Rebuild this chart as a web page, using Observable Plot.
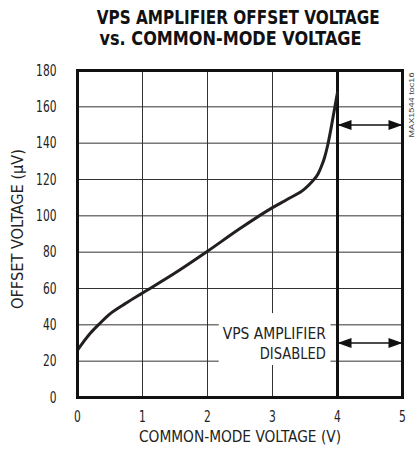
<!DOCTYPE html>
<html>
<head>
<meta charset="utf-8">
<script src="https://cdn.jsdelivr.net/npm/d3@7"></script>
<script src="https://cdn.jsdelivr.net/npm/@observablehq/plot@0.6"></script>
<style>
  html, body { margin: 0; padding: 0; background: #fff; }
  #wrap { position: relative; width: 416px; height: 455px; overflow: hidden; }
  #title { position: relative; height: 52px; width: 416px; font-family: "Liberation Sans Narrow", "DejaVu Sans Condensed", "DejaVu Sans", sans-serif; font-stretch: condensed; font-weight: bold; font-size: 18.5px; color: #111; }
  #title div { position: absolute; width: 832px; text-align: center; line-height: 20px; white-space: nowrap; }
  #title span { display: inline-block; transform-origin: center; }
  #chart { display: block; }
</style>
</head>
<body>
<div id="wrap">
  <div id="title">
    <div style="top:8px; left:-178px;"><span id="t1">VPS AMPLIFIER OFFSET VOLTAGE</span></div>
    <div style="top:29px; left:-185px;"><span id="t2">vs. COMMON-MODE VOLTAGE</span></div>
  </div>
  <div id="chart"></div>
</div>
<script>
// Curve: offset voltage (µV) vs common-mode voltage (V)
const cmVoltage = [0, 0.1, 0.2, 0.35, 0.5, 0.75, 1.0, 1.5, 2.0, 2.5, 3.0, 3.25, 3.5, 3.6, 3.7, 3.75, 3.8, 3.85, 3.9, 3.95, 4.0];
const offsetUV  = [26, 31, 35.5, 41, 46, 52, 57.5, 68.5, 80.5, 93, 104.5, 109.5, 115, 118.5, 123, 127, 132, 139, 148, 158, 168];

const xTicks = [0, 1, 2, 3, 4, 5];
const yTicks = [0, 20, 40, 60, 80, 100, 120, 140, 160, 180];

const xLabel = "COMMON-MODE VOLTAGE (V)";
const yLabel = "OFFSET VOLTAGE (µV)";
const sideNote = "MAX1544 toc16";

// "disabled" region boundary and arrows (from 4 V to 5 V)
const disabledFrom = [4];
const arrowLevels = [150, 30];
const arrowSpan = [4, 5];

// annotation text and its white backing box (data units)
const noteLines = ["VPS AMPLIFIER", "DISABLED"];
const noteLineY = [35.2, 24.2];
const noteX = 3.82;
const noteBox = [{x1: 2.18, x2: 3.9, y1: 17.6, y2: 46.2}];

const curve = cmVoltage.map((v, i) => ({x: v, y: offsetUV[i]}));
const arrows = arrowLevels.map(y => ({x1: arrowSpan[0], x2: arrowSpan[1], y}));
const heads = arrowLevels.flatMap(y => [{x: arrowSpan[0], y, r: 180}, {x: arrowSpan[1], y, r: 0}]);
const notes = noteLines.map((t, i) => ({x: noteX, y: noteLineY[i], t}));

// filled arrowhead symbol: tip at origin pointing right
const headSymbol = {
  draw(ctx) {
    ctx.moveTo(0, 0);
    ctx.lineTo(-14, -5);
    ctx.lineTo(-14, 5);
    ctx.closePath();
  }
};

const font = '"Liberation Sans Narrow", "DejaVu Sans Condensed", "DejaVu Sans", sans-serif';

const chart = Plot.plot({
  width: 416,
  height: 403,
  marginTop: 18,
  marginBottom: 58,
  marginLeft: 77,
  marginRight: 14,
  style: {fontFamily: font, fontSize: "16px", color: "#222", background: "#fff", fontStretch: "condensed"},
  x: {domain: [0, 5], ticks: xTicks, tickSize: 0, tickPadding: 13, label: null},
  y: {domain: [0, 180], ticks: yTicks, tickSize: 0, tickPadding: 21, label: null},
  marks: [
    Plot.ruleX(xTicks, {stroke: "#333", strokeWidth: 1}),
    Plot.ruleY(yTicks, {stroke: "#333", strokeWidth: 1}),
    Plot.rect(noteBox, {x1: "x1", x2: "x2", y1: "y1", y2: "y2", fill: "#fff"}),
    Plot.text(notes, {x: "x", y: "y", text: "t", textAnchor: "end", fontSize: 16, fill: "#222", className: "note"}),
    Plot.ruleX(disabledFrom, {stroke: "#111", strokeWidth: 3}),
    Plot.link(arrows, {x1: "x1", x2: "x2", y1: "y", y2: "y", stroke: "#111", strokeWidth: 1.5}),
    Plot.dot(heads, {x: "x", y: "y", rotate: "r", symbol: headSymbol, fill: "#111", stroke: null, r: 5}),
    Plot.line(curve, {x: "x", y: "y", curve: "monotone-x", stroke: "#231f20", strokeWidth: 3}),
    Plot.frame({stroke: "#111", strokeWidth: 3}),
    Plot.axisX(xTicks, {tickSize: 0, tickPadding: 13, fontSize: 16.5, label: null, className: "xt"}),
    Plot.axisY(yTicks, {tickSize: 0, tickPadding: 21, fontSize: 16.5, label: null, className: "yt"}),
    Plot.text([xLabel], {frameAnchor: "bottom", textAnchor: "middle", dy: 44, text: d => d, fontSize: 16, fill: "#222", className: "xlab"}),
    Plot.text([yLabel], {frameAnchor: "left", textAnchor: "middle", dx: -60, dy: -5, rotate: -90, text: d => d, fontSize: 16, fill: "#222", className: "ylab"}),
    Plot.text([sideNote], {frameAnchor: "top-right", textAnchor: "middle", dx: 6, dy: 34.5, rotate: -90, text: d => d, fontSize: 8, fill: "#444", fontFamily: '"Liberation Sans", Arial, sans-serif', className: "side"})
  ]
});
document.getElementById("chart").appendChild(chart);

// fit selected texts to the widths measured on the reference
function fit(sel, widths) {
  chart.querySelectorAll(sel + " text").forEach((t, i) => {
    const w = typeof widths === "function" ? widths(t) : widths[Math.min(i, widths.length - 1)];
    t.setAttribute("textLength", w);
    t.setAttribute("lengthAdjust", "spacingAndGlyphs");
  });
}
fit(".xlab", [202]);
fit(".ylab", [160]);
fit(".note", [103, 66]);
fit(".side", [65]);
fit(".xt", t => 6.8 * t.textContent.length);
fit(".yt", t => 6.8 * t.textContent.length);

// fit title lines to the reference widths
[["t1", 283], ["t2", 262]].forEach(([id, w]) => {
  const el = document.getElementById(id);
  const cur = el.getBoundingClientRect().width;
  if (cur > 0) el.style.transform = `scaleX(${w / cur}) scaleY(1.08)`;
});
</script>
</body>
</html>
